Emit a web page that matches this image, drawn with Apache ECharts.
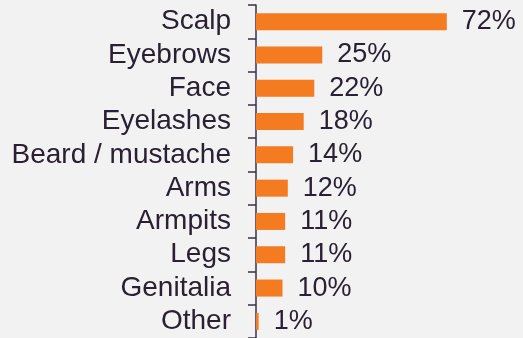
<!DOCTYPE html>
<html>
<head>
<meta charset="utf-8">
<script src="https://cdn.jsdelivr.net/npm/echarts@6/dist/echarts.min.js"></script>
<style>
  html, body { margin: 0; padding: 0; background: #f2f2f2; }
  #chart { width: 523px; height: 338px; }
</style>
</head>
<body>
<div id="chart"></div>
<script>
// body areas, top to bottom as shown
const areas = ["Scalp", "Eyebrows", "Face", "Eyelashes", "Beard / mustache", "Arms", "Armpits", "Legs", "Genitalia", "Other"]
const shares = [72, 25, 22, 18, 14, 12, 11, 11, 10, 1]

const textColor = "#2b2033"
const axisColor = "#3a2e45"

const chart = echarts.init(document.getElementById("chart"))
chart.setOption({
  backgroundColor: "#f2f2f2",
  animation: false,
  grid: {
    left: 256,
    width: 265,
    top: 5,
    height: 334
  },
  xAxis: {
    type: "value",
    min: 0,
    max: 100,
    axisLine: { show: false },
    axisTick: { show: false },
    axisLabel: { show: false },
    splitLine: { show: false }
  },
  yAxis: {
    type: "category",
    inverse: true,
    data: areas,
    axisLine: { show: true, onZero: false, lineStyle: { color: axisColor, width: 1.5 } },
    axisTick: { show: true, interval: 0, length: 8, lineStyle: { color: axisColor, width: 1.5 } },
    axisLabel: {
      interval: 0,
      margin: 25,
      color: textColor,
      fontFamily: "Liberation Sans",
      fontSize: 28
    }
  },
  series: [{
    type: "bar",
    data: shares,
    barWidth: 17,
    itemStyle: { color: "#f47b20" },
    label: {
      show: true,
      position: "right",
      distance: 15,
      formatter: "{c}%",
      color: textColor,
      fontFamily: "Liberation Sans",
      fontSize: 27
    }
  }]
})
</script>
</body>
</html>
